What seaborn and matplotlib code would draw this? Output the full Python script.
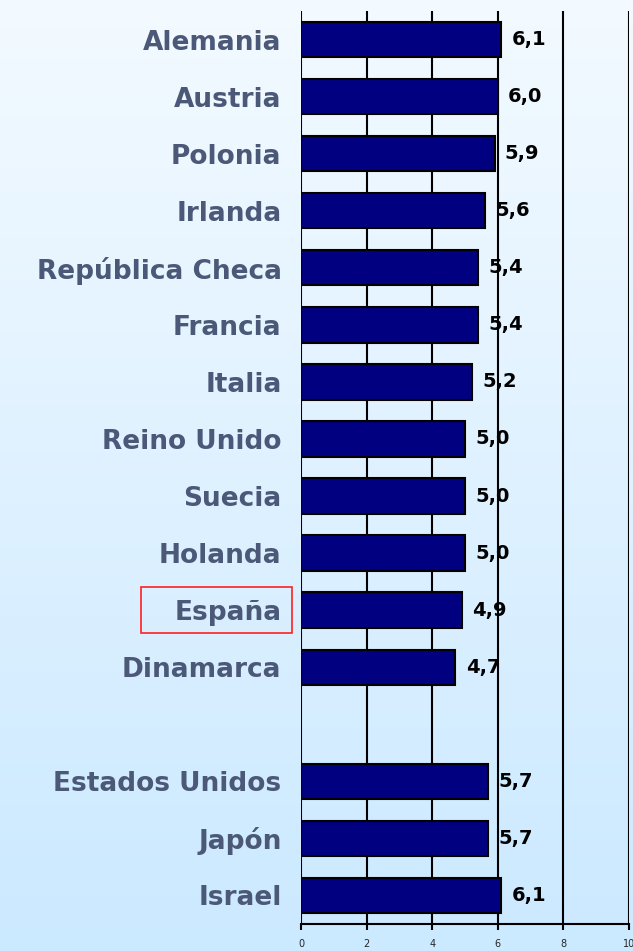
import numpy as np
import pandas as pd
import seaborn as sns
import matplotlib.pyplot as plt
import matplotlib.transforms as mtransforms
from matplotlib.patches import Rectangle

# Datos (la fila vacía separa Europa del resto)
paises = ["Alemania", "Austria", "Polonia", "Irlanda", "República Checa",
          "Francia", "Italia", "Reino Unido", "Suecia", "Holanda",
          "España", "Dinamarca", "", "Estados Unidos", "Japón", "Israel"]
valores = [6.1, 6.0, 5.9, 5.6, 5.4, 5.4, 5.2, 5.0, 5.0, 5.0,
           4.9, 4.7, np.nan, 5.7, 5.7, 6.1]
ticks_x = [0, 2, 4, 6, 8, 10]
destacado = "España"

df = pd.DataFrame({"pais": paises, "valor": valores}).dropna()

sns.set_style("white")
plt.rcParams["font.family"] = ["DejaVu Sans"]

fig = plt.figure(figsize=(6.33, 9.51), dpi=100)

# fondo degradado
bg = fig.add_axes([0, 0, 1, 1], zorder=-10)
grad = np.linspace(0, 1, 256).reshape(-1, 1)
top = np.array([0xf3, 0xfa, 0xff]) / 255
bot = np.array([0xcb, 0xe9, 0xff]) / 255
img = top + (bot - top) * grad[:, :, None]
bg.imshow(img, aspect="auto", extent=[0, 1, 0, 1])
bg.axis("off")

ax = fig.add_axes([301 / 633, 1 - 924 / 951, 328 / 633, 913 / 951])
ax.patch.set_alpha(0)

for t in ticks_x:
    ax.axvline(t, color="black", lw=1.5, zorder=0)

sns.barplot(data=df, x="valor", y="pais", order=paises, color="#000080",
            saturation=1, edgecolor="black", linewidth=1.5, width=0.62,
            ax=ax, zorder=2)

ax.set_xlim(0, 10)
ax.set_ylim(len(paises) - 0.5, -0.5)
ax.set_xticks(ticks_x)
ax.set_xlabel("")
ax.set_ylabel("")

for s in ["top", "right", "left"]:
    ax.spines[s].set_visible(False)
ax.spines["bottom"].set_linewidth(1.5)
ax.spines["bottom"].set_color("black")

ax.tick_params(axis="x", length=4, width=1.5, direction="out", pad=7,
               labelsize=7, color="black", bottom=True)
ax.tick_params(axis="y", length=0, pad=14, labelsize=19, labelcolor="#4b5878")
for lab in ax.get_yticklabels():
    lab.set_fontweight("bold")

# etiquetas de valor
for p in ax.patches:
    w = p.get_width()
    if np.isnan(w) or w == 0:
        continue
    ax.annotate(f"{w:.1f}".replace(".", ","),
                (w, p.get_y() + p.get_height() / 2),
                xytext=(7.5, 0), textcoords="offset points",
                ha="left", va="center", fontsize=14, fontweight="bold",
                color="black", zorder=5)

# recuadro rojo en España
i = paises.index(destacado)
trans = mtransforms.blended_transform_factory(ax.transAxes, ax.transData)
ax.add_patch(Rectangle((-0.488, i - 0.4), 0.461, 0.8, transform=trans,
                       fill=False, edgecolor="#ff2020", lw=1.2, clip_on=False))

fig.savefig("out.png", dpi=100)
